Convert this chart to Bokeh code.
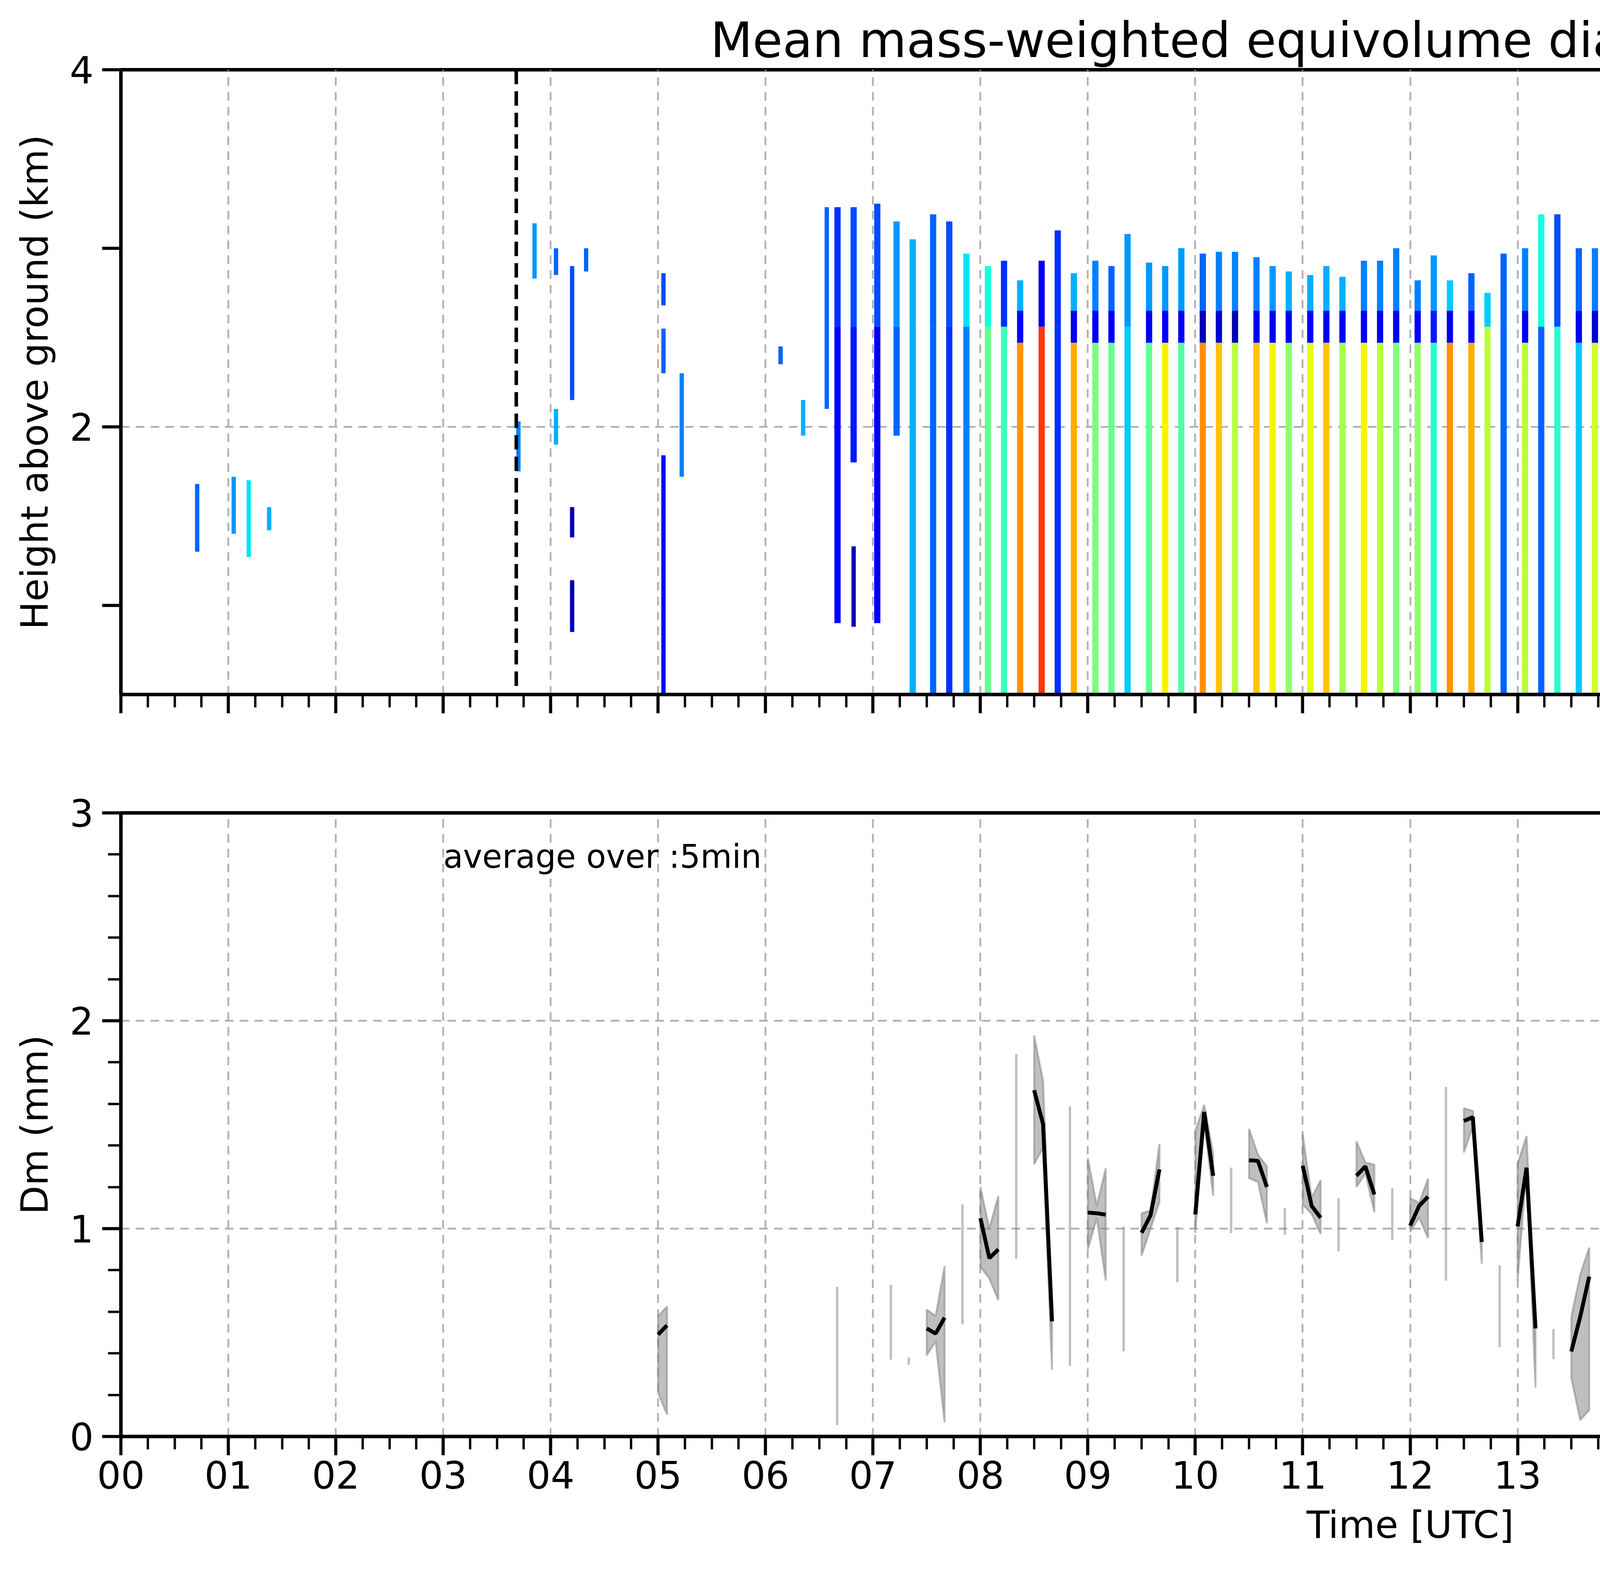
import numpy as np
from bokeh.plotting import figure
from bokeh.models import (Range1d, FixedTicker, LinearColorMapper, Span, BoxAnnotation,
                          Label, NumeralTickFormatter, ColumnDataSource)
from bokeh.layouts import column, row
from bokeh.embed import file_html
from bokeh.resources import INLINE

FONT = "DejaVu Sans"

# ---------------- top panel: radar profiles ----------------
# one profile every ~10 min: time [h], echo top and base [km],
# Dm above the melting layer, inside it (None = no bright band) and below it [mm]
prof_time = [6.67, 6.82, 7.04, 7.22, 7.37, 7.56, 7.71, 7.87,
             8.07, 8.22, 8.37, 8.57, 8.72, 8.87,
             9.07, 9.22, 9.37, 9.57, 9.72, 9.87,
             10.07, 10.22, 10.37, 10.57, 10.72, 10.87,
             11.07, 11.22, 11.37, 11.57, 11.72, 11.87,
             12.07, 12.22, 12.37, 12.57, 12.72, 12.87,
             13.07, 13.22, 13.37, 13.57, 13.72, 13.87,
             14.07, 14.22, 14.37, 14.57, 14.72, 14.87,
             15.07, 15.22, 15.37, 15.57, 15.72, 15.87,
             16.07, 16.22, 16.37, 16.57, 16.72, 16.87,
             17.07, 17.22, 17.37, 17.57, 17.72, 17.87,
             18.07, 18.22, 18.37, 18.57,
             19.72, 19.87, 20.07, 20.22, 20.37, 20.57, 20.72, 20.87,
             21.07, 21.22, 21.37, 21.57, 21.72]
prof_top = [3.23, 3.23, 3.25, 3.15, 3.05, 3.19, 3.15, 2.97,
            2.90, 2.93, 2.82, 2.93, 3.10, 2.86,
            2.93, 2.90, 3.08, 2.92, 2.90, 3.00,
            2.97, 2.98, 2.98, 2.95, 2.90, 2.87,
            2.85, 2.90, 2.84, 2.93, 2.93, 3.00,
            2.82, 2.96, 2.82, 2.86, 2.75, 2.97,
            3.00, 3.19, 3.19, 3.00, 3.00, 3.05,
            3.23, 3.23, 3.15, 3.29, 3.29, 3.26,
            3.29, 3.26, 3.11, 3.26, 3.33, 3.40,
            3.43, 3.36, 3.26, 3.33, 3.23, 3.15,
            3.00, 3.08, 3.19, 3.05, 3.29, 3.15,
            3.29, 3.12, 3.23, 3.26,
            3.11, 3.08, 3.04, 3.04, 3.00, 2.97, 2.86, 3.15,
            3.19, 3.26, 3.26, 3.26, 3.26]
prof_base = [0.90, 1.80, 0.90, 1.95, 0.5, 0.5, 0.5, 0.5,
             0.5, 0.5, 0.5, 0.5, 0.5, 0.5,
             0.5, 0.5, 0.5, 0.5, 0.5, 0.5,
             0.5, 0.5, 0.5, 0.5, 0.5, 0.5,
             0.5, 0.5, 0.5, 0.5, 0.5, 0.5,
             0.5, 0.5, 0.5, 0.5, 0.5, 0.5,
             0.5, 0.5, 0.5, 0.5, 0.5, 0.5,
             0.5, 0.5, 0.5, 0.5, 0.5, 0.5,
             0.5, 0.5, 0.5, 0.5, 0.5, 0.5,
             0.5, 0.5, 0.5, 0.5, 0.5, 0.5,
             0.5, 0.5, 0.5, 0.5, 0.5, 0.5,
             0.5, 0.5, 0.5, 0.5,
             0.95, 0.85, 0.80, 0.5, 0.5, 0.5, 0.5, 0.5,
             0.5, 0.5, 0.5, 0.90, 2.65]
dm_snow = [0.35, 0.40, 0.40, 0.55, 0.60, 0.45, 0.40, 0.70,
           0.75, 0.35, 0.60, 0.20, 0.35, 0.60,
           0.50, 0.45, 0.55, 0.55, 0.55, 0.55,
           0.45, 0.50, 0.50, 0.50, 0.55, 0.60,
           0.60, 0.60, 0.60, 0.50, 0.50, 0.50,
           0.50, 0.55, 0.65, 0.45, 0.65, 0.45,
           0.50, 0.75, 0.40, 0.45, 0.50, 0.55,
           0.45, 0.50, 0.40, 0.35, 0.40, 0.35,
           0.35, 0.45, 0.45, 0.35, 0.30, 0.35,
           0.40, 0.45, 0.40, 0.50, 0.45, 0.55,
           0.55, 0.20, 0.40, 0.55, 0.40, 0.45,
           0.60, 0.40, 0.30, 0.30,
           0.50, 0.40, 0.35, 0.40, 0.40, 0.50, 0.35, 0.55,
           0.40, 0.35, 0.40, 0.50, 0.50]
dm_melt = [None, None, None, None, None, None, None, None,
           None, None, 0.25, None, None, 0.20,
           0.20, 0.20, None, 0.20, 0.25, 0.20,
           0.10, 0.15, 0.10, 0.20, 0.20, 0.20,
           0.25, 0.20, 0.20, 0.20, 0.20, 0.20,
           0.25, 0.30, 0.20, 0.25, None, None,
           0.20, None, None, 0.20, 0.15, 0.20,
           None, None, None, None, None, None,
           None, None, 0.10, None, None, None,
           None, None, None, None, None, None,
           0.15, 0.10, None, 0.20, None, None,
           None, None, None, None,
           None, None, None, None, None, None, None, None,
           None, None, None, None, None]
dm_rain = [0.25, 0.30, 0.20, 0.45, 0.60, 0.45, 0.35, 0.50,
           0.95, 0.85, 1.50, 1.70, 0.35, 1.45,
           1.00, 0.95, 0.65, 0.95, 1.30, 0.90,
           1.50, 1.40, 1.15, 1.40, 1.30, 1.05,
           1.25, 1.40, 1.10, 1.30, 1.15, 1.00,
           1.05, 0.80, 1.50, 1.45, 1.15, 0.45,
           1.15, 0.45, 0.80, 0.65, 1.20, 0.80,
           0.45, 0.50, 0.35, 0.30, 0.40, 0.25,
           0.30, 0.50, 1.60, 0.35, 0.30, 0.30,
           0.35, 0.40, 0.40, 0.50, 0.60, 0.55,
           1.60, 1.10, 0.45, 0.70, 0.90, 0.55,
           0.40, 0.60, 0.40, 0.35,
           0.45, 0.40, 0.35, 0.40, 0.40, 0.70, 0.35, 0.45,
           0.40, 0.35, 0.40, 0.45, 0.50]
melt_bottom, melt_top = 2.47, 2.65

# isolated echo fragments: time [h], bottom and top [km], Dm [mm]
frag_time = [0.71, 1.05, 1.19, 1.38, 3.70, 3.85, 4.05, 4.05, 4.20, 4.20, 4.20, 4.33,
             5.05, 5.05, 5.05, 5.22, 6.14, 6.35, 6.57, 6.82,
             18.72, 18.72, 18.87, 19.07, 19.22, 19.37, 19.57,
             21.85, 22.04, 22.20, 22.33, 22.50, 22.62,
             23.23, 23.35, 23.54, 23.70, 23.70, 23.76, 23.85]
frag_bot = [1.30, 1.40, 1.27, 1.42, 1.75, 2.83, 2.85, 1.90, 2.15, 1.38, 0.85, 2.87,
            2.68, 2.30, 0.50, 1.72, 2.35, 1.95, 2.10, 0.88,
            2.60, 1.30, 1.00, 1.10, 1.10, 1.20, 0.95,
            2.32, 2.32, 2.36, 2.43, 2.45, 2.48,
            0.50, 3.03, 3.03, 3.05, 2.58, 2.10, 3.08]
frag_top = [1.68, 1.72, 1.70, 1.55, 2.03, 3.14, 3.00, 2.10, 2.90, 1.55, 1.14, 3.00,
            2.86, 2.55, 1.84, 2.30, 2.45, 2.15, 3.23, 1.33,
            3.10, 2.10, 2.20, 2.30, 1.40, 1.80, 1.85,
            2.43, 2.39, 2.43, 2.47, 2.52, 2.55,
            0.75, 3.22, 3.22, 3.22, 2.68, 2.17, 3.20]
frag_dm = [0.45, 0.55, 0.70, 0.60, 0.50, 0.55, 0.45, 0.60, 0.40, 0.10, 0.10, 0.45,
           0.40, 0.45, 0.25, 0.50, 0.45, 0.60, 0.45, 0.10,
           0.35, 0.20, 0.15, 0.35, 0.15, 0.40, 0.45,
           0.50, 0.55, 0.50, 0.55, 0.50, 0.55,
           0.40, 0.45, 0.50, 0.45, 0.40, 0.55, 0.40]

window_marks = [3.68, 18.97]
no_data_start = 23.88

# ---------------- bottom panel: 5-min averages ----------------
dm_time = ["05:00", "05:05", "06:40", "07:10", "07:20", "07:30", "07:35", "07:40", "07:50",
           "08:00", "08:05", "08:10", "08:20", "08:30", "08:35", "08:40", "08:50",
           "09:00", "09:05", "09:10", "09:20", "09:30", "09:35", "09:40", "09:50",
           "10:00", "10:05", "10:10", "10:20", "10:30", "10:35", "10:40", "10:50",
           "11:00", "11:05", "11:10", "11:20", "11:30", "11:35", "11:40", "11:50",
           "12:00", "12:05", "12:10", "12:20", "12:30", "12:35", "12:40", "12:50",
           "13:00", "13:05", "13:10", "13:20", "13:30", "13:35", "13:40", "13:50",
           "14:00", "14:05", "14:10", "14:20", "14:30", "14:35", "14:40", "14:50",
           "15:20", "15:30", "15:35", "15:40", "15:50", "16:00", "16:20",
           "16:30", "16:35", "16:40", "16:50",
           "17:00", "17:05", "17:10", "17:20", "17:30", "17:35", "17:40", "17:50",
           "18:00", "18:05", "18:10", "18:20", "18:30", "18:35",
           "20:10", "20:20", "20:30", "20:35", "20:40", "20:50",
           "21:00", "21:05", "21:10", "21:20", "23:10"]
dm_mean = [0.49, 0.535, 0.40, 0.55, 0.36, 0.52, 0.495, 0.572, 0.83,
           1.05, 0.858, 0.90, 1.35, 1.666, 1.503, 0.554, 0.96,
           1.077, 1.074, 1.067, 0.71, 0.98, 1.064, 1.285, 0.87,
           1.068, 1.561, 1.254, 1.13, 1.329, 1.326, 1.20, 1.03,
           1.303, 1.109, 1.052, 1.02, 1.254, 1.30, 1.164, 1.07,
           1.014, 1.109, 1.154, 1.20, 1.518, 1.536, 0.936, 0.62,
           1.011, 1.293, 0.52, 0.44, 0.409, 0.577, 0.769, 0.49,
           0.544, 0.514, 0.479, 0.44, 0.521, 0.479, 0.454, 0.43,
           1.10, 0.554, 0.547, 0.502, 0.52, 0.62, 0.48,
           0.828, 0.719, 0.487, 0.46,
           1.196, 1.599, 1.558, 1.22, 0.517, 0.839, 0.984, 0.47,
           0.674, 0.577, 0.476, 0.29, 0.487, 0.535,
           0.52, 0.43, 0.80, 0.813, 0.457, 0.38,
           0.595, 0.539, 0.494, 0.34, 0.65]
dm_lo = [0.21, 0.105, 0.055, 0.37, 0.345, 0.39, 0.457, 0.067, 0.54,
         0.816, 0.76, 0.656, 0.854, 1.31, 1.39, 0.32, 0.34,
         0.90, 1.05, 0.75, 0.41, 0.87, 1.00, 1.128, 0.742,
         0.98, 1.51, 1.158, 0.978, 1.243, 1.224, 1.026, 0.97,
         1.116, 1.07, 0.974, 0.891, 1.20, 1.266, 1.079, 0.944,
         0.984, 1.053, 0.954, 0.749, 1.366, 1.49, 0.831, 0.43,
         0.749, 1.29, 0.235, 0.372, 0.28, 0.079, 0.127, 0.232,
         0.457, 0.50, 0.015, 0.217, 0.15, 0.24, 0.367, 0.26,
         0.49, 0.064, 0.255, 0.07, 0.03, 0.30, 0.022,
         0.532, 0.60, 0.19, 0.337,
         0.697, 1.20, 1.359, 1.053, 0.397, 0.577, 0.742, 0.295,
         0.165, 0.034, 0.01, 0.064, 0.285, 0.48,
         0.072, 0.232, 0.644, 0.742, 0.01, 0.135,
         0.15, 0.217, 0.192, 0.052, 0.397]
dm_hi = [0.58, 0.625, 0.72, 0.73, 0.38, 0.61, 0.58, 0.82, 1.116,
         1.20, 1.00, 1.157, 1.84, 1.93, 1.71, 0.56, 1.588,
         1.34, 1.11, 1.29, 1.01, 1.074, 1.086, 1.408, 1.008,
         1.471, 1.595, 1.359, 1.293, 1.48, 1.356, 1.30, 1.10,
         1.453, 1.15, 1.233, 1.146, 1.42, 1.318, 1.308, 1.194,
         1.146, 1.124, 1.24, 1.682, 1.58, 1.566, 0.936, 0.824,
         1.311, 1.446, 0.52, 0.517, 0.577, 0.779, 0.909, 0.749,
         0.604, 0.56, 0.686, 0.67, 0.664, 0.559, 0.562, 0.611,
         1.753, 0.969, 0.918, 0.989, 1.022, 0.94, 0.939,
         0.984, 0.854, 1.04, 0.595,
         1.816, 1.798, 1.693, 1.393, 0.70, 1.004, 1.191, 0.637,
         0.917, 0.61, 0.587, 0.517, 0.697, 0.569,
         0.962, 0.632, 0.951, 0.899, 0.674, 0.629,
         0.879, 0.614, 0.569, 0.632, 0.902]


def jet(n=256):
    x = np.linspace(0, 1, n)
    r = np.interp(x, [0, 0.35, 0.66, 0.89, 1], [0, 0, 1, 1, 0.5])
    g = np.interp(x, [0, 0.125, 0.375, 0.64, 0.91, 1], [0, 0, 1, 1, 0, 0])
    b = np.interp(x, [0, 0.11, 0.34, 0.65, 1], [0.5, 1, 1, 0, 0])
    return ["#%02x%02x%02x" % (int(255 * a), int(255 * c), int(255 * d)) for a, c, d in zip(r, g, b)]


mapper = LinearColorMapper(palette=jet(), low=0, high=2)
hours = list(range(24))
quarters = [q / 4 for q in range(97)]
GRID = dict(grid_line_color="#b0b0b0", grid_line_dash="22 16", grid_line_width=4.5)


def style_axis(ax, label_size="96px"):
    ax.axis_line_width = 9
    ax.major_tick_line_width = 8
    ax.minor_tick_line_width = 6
    ax.major_tick_in = 0
    ax.minor_tick_in = 0
    ax.major_tick_out = 48
    ax.minor_tick_out = 33
    ax.major_label_text_font = FONT
    ax.major_label_text_font_size = label_size
    ax.major_label_text_color = "black"
    ax.axis_label_text_font = FONT
    ax.axis_label_text_font_size = "96px"
    ax.axis_label_text_font_style = "normal"
    ax.axis_label_text_color = "black"


# ---- top panel ----
top = figure(width=6934, height=1927, x_range=Range1d(0, 24), y_range=Range1d(0.5, 4),
             output_backend="svg", toolbar_location=None,
             min_border_left=309, min_border_right=24, min_border_top=178, min_border_bottom=150,
             title="Mean mass-weighted equivolume diameter on 20250726")
top.title.text_font = FONT
top.title.text_font_size = "125px"
top.title.text_font_style = "normal"
top.title.text_color = "black"
top.title.align = "center"
top.title.standoff = 8
top.outline_line_color = "black"
top.outline_line_width = 9
top.outline_line_alpha = 1

W = 0.058
lf, rt, bt, tp, val = [], [], [], [], []
mid = (melt_bottom + melt_top) / 2
for t, ht, hb, s, m, r in zip(prof_time, prof_top, prof_base, dm_snow, dm_melt, dm_rain):
    if m is None:
        segs = [(max(hb, mid), ht, s), (hb, mid, r)]
    else:
        segs = [(melt_top, ht, s), (melt_bottom, melt_top, m), (hb, melt_bottom, r)]
    for b0, b1, v in segs:
        if b1 > b0:
            lf.append(t - W / 2); rt.append(t + W / 2); bt.append(b0); tp.append(b1); val.append(v)
for t, b0, b1, v in zip(frag_time, frag_bot, frag_top, frag_dm):
    lf.append(t - 0.02); rt.append(t + 0.02); bt.append(b0); tp.append(b1); val.append(v)

cells = ColumnDataSource(data=dict(left=lf, right=rt, bottom=bt, top=tp, dm=val))
top.quad(left="left", right="right", bottom="bottom", top="top",
         fill_color={"field": "dm", "transform": mapper}, line_color=None, source=cells)
top.add_layout(BoxAnnotation(left=no_data_start, right=24, fill_color="#d9d9d9", fill_alpha=1,
                             line_color=None))
for x in window_marks:
    top.add_layout(Span(location=x, dimension="height", line_color="black",
                        line_dash="37 18", line_width=9))

top.xaxis.ticker = FixedTicker(ticks=hours, minor_ticks=quarters)
top.xaxis.major_label_overrides = {h: "" for h in hours}
top.yaxis.ticker = FixedTicker(ticks=[1, 2, 3, 4], minor_ticks=[])
top.yaxis.major_label_overrides = {1: "", 3: ""}
top.yaxis.axis_label = "Height above ground (km)"
for ax in top.axis:
    style_axis(ax)
top.yaxis.major_label_standoff = 22
top.yaxis.axis_label_standoff = 30
top.xgrid.ticker = FixedTicker(ticks=hours[1:])
top.ygrid.ticker = FixedTicker(ticks=[2])
for g in top.grid:
    for k, v in GRID.items():
        setattr(g, k, v)

# ---- colour bar ----
cb = figure(width=473, height=1927, x_range=Range1d(0, 1), y_range=Range1d(0, 2),
            output_backend="svg", toolbar_location=None, x_axis_location=None,
            y_axis_location="right",
            min_border_left=50, min_border_right=310, min_border_top=178, min_border_bottom=150)
cb.image(image=[np.linspace(0, 2, 256).reshape(-1, 1)], x=0, y=0, dw=1, dh=2, color_mapper=mapper)
cb.grid.visible = False
cb.outline_line_color = "black"
cb.outline_line_width = 4
cb.outline_line_alpha = 1
cax = cb.yaxis[0]
cax.ticker = FixedTicker(ticks=[0, 0.4, 0.8, 1.2, 1.6, 2.0], minor_ticks=[])
cax.formatter = NumeralTickFormatter(format="0.0")
cax.axis_line_width = 4
cax.major_tick_line_width = 5
cax.major_tick_in = 0
cax.major_tick_out = 21
cax.major_label_standoff = 28
cax.major_label_text_font = FONT
cax.major_label_text_font_size = "80px"
cax.major_label_text_color = "black"
cb.add_layout(Label(x=3.15, y=1.0, text="Dm (mm)", angle=np.pi / 2, text_font=FONT,
                    text_font_size="80px", text_align="center", text_baseline="middle",
                    text_color="black"))

# ---- bottom panel ----
bot = figure(width=6934, height=2074, x_range=Range1d(0, 24), y_range=Range1d(0, 3),
             output_backend="svg", toolbar_location=None,
             min_border_left=309, min_border_right=24, min_border_top=153, min_border_bottom=325)
bot.outline_line_color = "black"
bot.outline_line_width = 9
bot.outline_line_alpha = 1

tmin = [int(s[:2]) * 60 + int(s[3:]) for s in dm_time]
runs, cur = [], [0]
for i in range(1, len(tmin)):
    if tmin[i] - tmin[i - 1] == 5:
        cur.append(i)
    else:
        runs.append(cur)
        cur = [i]
runs.append(cur)

pxs, pys, lxs, lys, sx, s0, s1 = [], [], [], [], [], [], []
for rr in runs:
    xs = [tmin[i] / 60 for i in rr]
    if len(rr) == 1:
        sx.append(xs[0]); s0.append(dm_lo[rr[0]]); s1.append(dm_hi[rr[0]])
    else:
        pxs.append(xs + xs[::-1])
        pys.append([dm_hi[i] for i in rr] + [dm_lo[i] for i in rr][::-1])
        lxs.append(xs)
        lys.append([dm_mean[i] for i in rr])

bot.patches(pxs, pys, fill_color="#808080", fill_alpha=0.5, line_color="#808080",
            line_alpha=0.5, line_width=5)
bot.segment(x0=sx, y0=s0, x1=sx, y1=s1, line_color="#808080", line_alpha=0.5, line_width=6)
bot.multi_line(lxs, lys, line_color="black", line_width=10)
bot.add_layout(Label(x=3.0, y=2.79, text="average over :5min", text_font=FONT,
                     text_font_size="83px", text_baseline="middle", text_color="black"))

bot.xaxis.ticker = FixedTicker(ticks=hours, minor_ticks=quarters)
bot.xaxis.major_label_overrides = {h: "%02d" % h for h in hours}
bot.xaxis.axis_label = "Time [UTC]"
bot.yaxis.ticker = FixedTicker(ticks=[0, 1, 2, 3], minor_ticks=[k / 5 for k in range(16)])
bot.yaxis.axis_label = "Dm (mm)"
for ax in bot.axis:
    style_axis(ax)
bot.xaxis.major_label_standoff = 14
bot.xaxis.axis_label_standoff = 34
bot.yaxis.major_label_standoff = 22
bot.yaxis.axis_label_standoff = 30
bot.xgrid.ticker = FixedTicker(ticks=hours[1:])
bot.ygrid.ticker = FixedTicker(ticks=[1, 2])
for g in bot.grid:
    for k, v in GRID.items():
        setattr(g, k, v)

layout = column(row(top, cb), bot)
open("out.html", "w").write(file_html(layout, INLINE))
